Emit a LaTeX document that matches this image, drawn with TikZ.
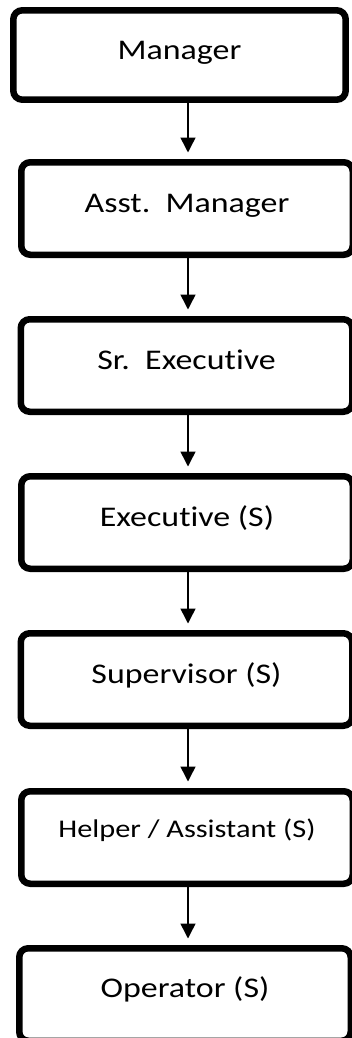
\documentclass[tikz,border=0pt]{standalone}
\usepackage{fontspec}
\setmainfont{Carlito}[FakeStretch=1.19, Ligatures=NoCommon]
\usetikzlibrary{arrows.meta}

\tikzset{
  rolebox/.style={draw=black, line width=6.5pt, rounded corners=9pt,
    minimum width=331.5pt, minimum height=92.5pt, inner sep=0pt, fill=white},
  rolelabel/.style={anchor=base, inner sep=0pt,
    font=\fontsize{28.5}{34}\selectfont},
  smalllabel/.style={rolelabel, font=\fontsize{25.5}{30}\selectfont},
  link/.style={line width=1.5pt, -{Triangle[width=15pt,length=15pt]},
    shorten >=6.5pt}
}

\begin{document}
\begin{tikzpicture}[x=1pt,y=1pt]
\useasboundingbox (0,0) rectangle (351,-1038);

% boxes of the chain, top to bottom
\node[rolebox, minimum width=332.4pt, minimum height=89.4pt] (mgr) at (179.5,-55) {};
\node[rolebox] (amgr) at (187,-208.5) {};
\node[rolebox] (srex) at (186.5,-365.5) {};
\node[rolebox] (exec) at (187,-522.5) {};
\node[rolebox] (sup)  at (186.5,-679.5) {};
\node[rolebox] (help) at (187,-837.5) {};
\node[rolebox] (oper) at (185,-994.5) {};

% titles, set a little above the middle of each box
\node[rolelabel] (tmgr)  at ([yshift=-5pt]mgr.center)   {Manager};
\node[rolelabel] (tamgr) at ([yshift=-3.5pt]amgr.center) {Asst.\ \ Manager};
\node[rolelabel] (tsrex) at ([yshift=-3.5pt]srex.center) {Sr.\ \ Executive};
\node[rolelabel] (texec) at ([yshift=-3.5pt]exec.center) {Executive (S)};
\node[rolelabel] (tsup)  at ([yshift=-3.5pt]sup.center)  {Supervisor (S)};
\node[smalllabel] (thelp) at ([yshift=0.5pt]help.center) {Helper / Assistant (S)};
\node[rolelabel] (toper) at ([yshift=-2.5pt]oper.center) {Operator (S)};

% reporting arrows on a common vertical
\coordinate (ax) at (188,0);
\draw[link] (mgr.south -| ax)  -- (amgr.north -| ax);
\draw[link] (amgr.south -| ax) -- (srex.north -| ax);
\draw[link] (srex.south -| ax) -- (exec.north -| ax);
\draw[link] (exec.south -| ax) -- (sup.north -| ax);
\draw[link] (sup.south -| ax)  -- (help.north -| ax);
\draw[link] (help.south -| ax) -- (oper.north -| ax);
\end{tikzpicture}
\end{document}
